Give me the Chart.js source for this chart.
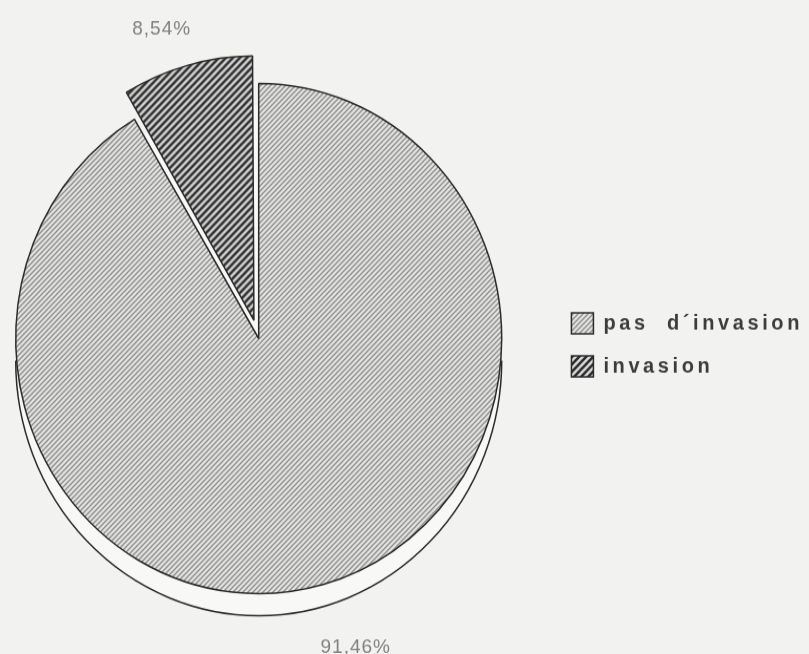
<!DOCTYPE html>
<html>
<head>
<meta charset="utf-8">
<script src="https://cdn.jsdelivr.net/npm/chart.js@4/dist/chart.umd.min.js"></script>
<style>
  html, body { margin: 0; padding: 0; background: #f2f2f1; overflow: hidden; }
</style>
</head>
<body>
<canvas id="pie" width="846" height="623"
        style="display:block; margin-left:-33px; width:846px; height:654px;"></canvas>
<script>
// ─────────────────────────────────────────────
//  Invasion / pas d'invasion
// ─────────────────────────────────────────────

const labels  = ['pas  d\u00b4invasion', 'invasion'];
const values  = [91.46, 8.54];
const explode = [0, 72];          // Chart.js offset units (the small slice is pulled out)

const DEPTH   = 21;               // thickness of the disc rim
const BORDER  = '#2a2a2a';

// diagonal hatch tile
function hatch(size, bg, line, width) {
  const c = document.createElement('canvas');
  c.width = size; c.height = size;
  const g = c.getContext('2d');
  g.fillStyle = bg;
  g.fillRect(0, 0, size, size);
  g.strokeStyle = line;
  g.lineWidth = width;
  g.beginPath();
  g.moveTo(0, size);            g.lineTo(size, 0);
  g.moveTo(-1, 1);              g.lineTo(1, -1);
  g.moveTo(size - 1, size + 1); g.lineTo(size + 1, size - 1);
  g.stroke();
  return g.createPattern(c, 'repeat');
}

const fills = [
  hatch(5, '#e2e2e1', '#8e8e8e', 1.3),
  hatch(7, '#d9d9d9', '#2e2e2e', 2.6)
];

const fmtPct = v => v.toFixed(2).replace('.', ',') + '%';

// spaced-out lettering, like the typewriter legend
const spacing = {
  id: 'spacing',
  beforeUpdate(chart) { chart.ctx.letterSpacing = '3.6px'; },
  beforeDraw(chart)   { chart.ctx.letterSpacing = '3.6px'; }
};

// white rim under the disc to give it some depth
const rim = {
  id: 'rim',
  beforeDatasetsDraw(chart) {
    const arc = chart.getDatasetMeta(0).data[0];
    if (!arc) return;
    const { x, y, outerRadius: r } = arc;
    const ctx = chart.ctx;
    ctx.save();
    ctx.beginPath();
    ctx.arc(x, y + DEPTH, r, 0, Math.PI * 2);
    ctx.fillStyle = '#f8f8f7';
    ctx.fill();
    ctx.beginPath();
    ctx.arc(x, y + DEPTH, r, 0, Math.PI);
    ctx.strokeStyle = BORDER;
    ctx.lineWidth = 1.5;
    ctx.stroke();
    ctx.restore();
  }
};

// percentage outside each slice
const pctLabels = {
  id: 'pctLabels',
  afterDatasetsDraw(chart) {
    const ctx = chart.ctx;
    const meta = chart.getDatasetMeta(0);
    ctx.save();
    ctx.letterSpacing = '1px';
    ctx.font = '19px "Liberation Sans", Arial, sans-serif';
    ctx.fillStyle = '#808080';
    ctx.textAlign = 'center';
    ctx.textBaseline = 'middle';
    meta.data.forEach((arc, i) => {
      const mid = (arc.startAngle + arc.endAngle) / 2 - 0.05;
      const d = arc.outerRadius + 67;
      ctx.fillText(fmtPct(values[i]), arc.x + Math.cos(mid) * d, arc.y + Math.sin(mid) * d);
    });
    ctx.restore();
  }
};

new Chart(document.getElementById('pie'), {
  type: 'pie',
  data: {
    labels: labels,
    datasets: [{
      data: values,
      backgroundColor: fills,
      borderColor: BORDER,
      borderWidth: 1.5,
      offset: explode,
      hoverOffset: 0
    }]
  },
  options: {
    responsive: false,
    animation: false,
    radius: 243,
    layout: { padding: { left: 0, top: 22, right: 0, bottom: 0 } },
    plugins: {
      legend: {
        position: 'right',
        title: { display: true, text: ' ', font: { size: 10, lineHeight: 1.2 }, padding: 0 },
        labels: {
          boxWidth: 22,
          boxHeight: 20,
          padding: 21,
          color: '#3c3c3c',
          font: { family: '"Liberation Sans", Arial, sans-serif', size: 20, weight: 'bold' }
        }
      },
      tooltip: { enabled: false }
    },
    events: []
  },
  plugins: [spacing, rim, pctLabels]
});
</script>
</body>
</html>
